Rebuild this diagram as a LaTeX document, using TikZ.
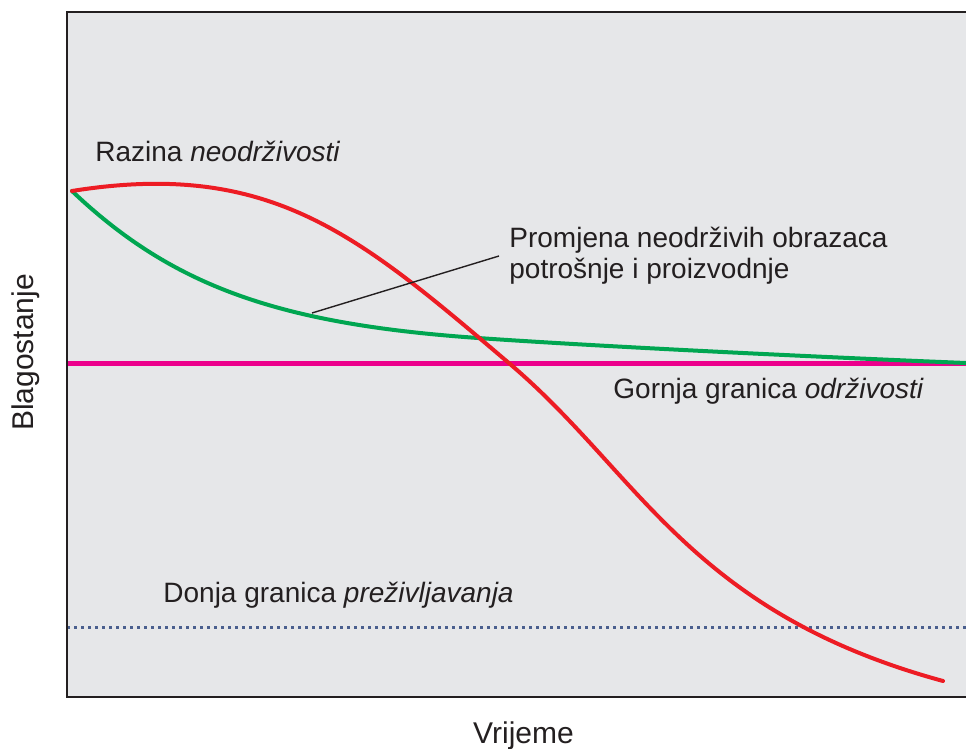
\documentclass[tikz,border=0pt]{standalone}
\usepackage{fontspec}
\setmainfont{Liberation Sans}

\definecolor{panel}{HTML}{E6E7E9}
\definecolor{framecol}{HTML}{231F20}
\definecolor{redline}{HTML}{ED1C24}
\definecolor{greenline}{HTML}{00A651}
\definecolor{upperline}{HTML}{EC008C}
\definecolor{lowerline}{HTML}{4A5F8E}

\begin{document}
\begin{tikzpicture}[x=0.5pt,y=-0.5pt,
        note/.style={font=\fontsize{14}{15.5}\selectfont, text=framecol, inner sep=0pt},
        axislabel/.style={font=\fontsize{15}{18}\selectfont, text=framecol, inner sep=0pt},
        curve/.style={line width=2pt, line cap=round, line join=round}]

    \useasboundingbox (0,0) rectangle (966,749);

    % panel
    \fill[panel] (67,12) rectangle (966,697);

    % limits
    \draw[lowerline, line width=1.5pt, dash pattern=on 1.5pt off 2pt] (67,627) -- (966,627);
    \draw[upperline, line width=2.5pt] (67,363.5) -- (966,363.5);

    % curves
    \draw[curve, greenline] (72,191) .. controls (172,286) and (278,324) .. (478,338)
        .. controls (598,346.4) and (816,357) .. (966,363);
    \draw[curve, redline] (72,191) .. controls (272,159) and (360,236.5) .. (510,364)
        .. controls (640,474.5) and (690,612) .. (943,681);

    \draw[framecol, line width=1.25pt] (966,12) -- (67,12) -- (67,697) -- (966,697);

    % labels
    \node[note, anchor=base west] (razina) at (95,162) {Razina \textit{neodrživosti}};
    \node[note, anchor=west, inner xsep=5pt, align=left] (promjena) at (499,256)
        {Promjena neodrživih obrazaca\\potrošnje i proizvodnje};
    \node[note, anchor=base west] (gornja) at (613,399) {Gornja granica \textit{održivosti}};
    \node[note, anchor=base west] (donja) at (163,603) {Donja granica \textit{preživljavanja}};

    \coordinate (lead) at (312,313);
    \draw[framecol, line width=0.7pt] (lead) -- (promjena.west);

    % axes
    \node[axislabel, anchor=base] (xlabel) at (523.5,743) {Vrijeme};
    \node[axislabel, rotate=90, anchor=base] (ylabel) at (33,352.5) {Blagostanje};
\end{tikzpicture}
\end{document}
